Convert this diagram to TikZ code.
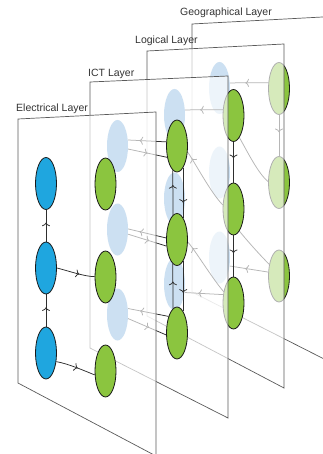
\documentclass[tikz,border=0pt]{standalone}
\usepackage{fontspec}
\setmainfont{Liberation Sans}
\usetikzlibrary{shapes.geometric,arrows.meta,decorations.markings}
\definecolor{eblue}{HTML}{1FA6DF}
\definecolor{backblue}{HTML}{6FA8DC}
\definecolor{egreen}{HTML}{8BC53F}
\definecolor{planeedge}{HTML}{5A5A5A}
\definecolor{linecol}{HTML}{2E2E2E}
\definecolor{txtcol}{HTML}{333333}
\pgfdeclarelayer{geoplane}\pgfdeclarelayer{geoedges}\pgfdeclarelayer{geonodes}
\pgfdeclarelayer{logplane}\pgfdeclarelayer{logedges}\pgfdeclarelayer{lognodes}
\pgfdeclarelayer{ictplane}\pgfdeclarelayer{ictedges}\pgfdeclarelayer{ictnodes}
\pgfdeclarelayer{elecplane}\pgfdeclarelayer{elecedges}
\pgfsetlayers{geoplane,geoedges,geonodes,logplane,logedges,lognodes,ictplane,ictedges,ictnodes,elecplane,elecedges,main}
\begin{document}
\begin{tikzpicture}[x=1pt,y=-1pt,
  bnode/.style={ellipse, draw=black!90, line width=0.8pt, fill=eblue, minimum width=21pt, minimum height=52pt, inner sep=0pt},
  fbnode/.style={ellipse, fill=backblue, minimum width=21pt, minimum height=52pt, inner sep=0pt},
  gnode/.style={ellipse, draw=black!90, line width=0.8pt, fill=egreen, minimum width=21pt, minimum height=52pt, inner sep=0pt},
  plane/.style={draw=planeedge, line width=0.7pt, fill=white, fill opacity=0.65},
  conn/.style={draw=linecol, line width=0.75pt},
  midarr/.style={postaction={decorate}, decoration={markings, mark=at position #1 with {\arrow{To[length=3.6pt,width=8pt]}}}},
  lbl/.style={anchor=base west, font=\fontsize{10.5}{12}\selectfont, text=txtcol, inner sep=0pt}
]
\useasboundingbox (0,0) rectangle (322,454);
\clip (0,0) rectangle (322,454);

% ---------- nodes ----------
\begin{pgfonlayer}{geonodes}
\node[fbnode] (gb1) at (219.5,88) {};
\node[fbnode] (gb2) at (219.5,172.5) {};
\node[fbnode] (gb3) at (219.5,257.5) {};
\node[gnode] (gg1) at (279,88.5) {};
\node[gnode] (gg2) at (279,182.5) {};
\node[gnode] (gg3) at (279,276) {};
\end{pgfonlayer}
\begin{pgfonlayer}{lognodes}
\node[fbnode] (lb1) at (174.5,115) {};
\node[fbnode] (lb2) at (174.5,198.5) {};
\node[fbnode] (lb3) at (174.5,284) {};
\node[gnode] (lg1) at (233.5,115.5) {};
\node[gnode] (lg2) at (233.5,209) {};
\node[gnode] (lg3) at (233.5,303) {};
\end{pgfonlayer}
\begin{pgfonlayer}{ictnodes}
\node[fbnode] (ib1) at (117.5,146) {};
\node[fbnode] (ib2) at (117.5,229.5) {};
\node[fbnode] (ib3) at (117.5,314.5) {};
\node[gnode] (ig1) at (177,146) {};
\node[gnode] (ig2) at (177,239.5) {};
\node[gnode] (ig3) at (177,333) {};
\end{pgfonlayer}
\node[bnode] (eb1) at (46,183.5) {};
\node[bnode] (eb2) at (46,268) {};
\node[bnode] (eb3) at (46,353) {};
\node[gnode] (eg1) at (105.5,184) {};
\node[gnode] (eg2) at (105.5,277) {};
\node[gnode] (eg3) at (105.5,371) {};

% ---------- planes ----------
\begin{pgfonlayer}{geoplane}
\path[plane] (192,24) -- (330,16.6) -- (330,362) -- (192,292) -- cycle;
\end{pgfonlayer}
\begin{pgfonlayer}{logplane}
\path[plane] (147,51) -- (284,44) -- (284,388) -- (147,316) -- cycle;
\end{pgfonlayer}
\begin{pgfonlayer}{ictplane}
\path[plane] (90,82) -- (228,76) -- (228,418) -- (90,348) -- cycle;
\end{pgfonlayer}
\begin{pgfonlayer}{elecplane}
\path[plane] (18,119) -- (156,112) -- (156,456) -- (18,383) -- cycle;
\end{pgfonlayer}

% ---------- edges ----------
\begin{pgfonlayer}{geoedges}
\draw[conn, midarr=0.6] (gg1.152) -- (gb1.26);
\draw[conn, midarr=0.42] (gg1.south) -- (gg2.north);
\draw[conn, midarr=0.6] (gg3.160) -- (gb3.-40);
\draw[conn] (lg1.-75) .. controls +(8,14) and +(-10,-8) .. (gg2.175);
\draw[conn] (lg2.-75) .. controls +(8,10) and +(-8,-8) .. (gg3.130);
\end{pgfonlayer}

\begin{pgfonlayer}{logedges}
\draw[conn, midarr=0.6] (lg1.152) -- (lb1.26);
\draw[conn, midarr=0.4] (lg1.south) -- (lg2.north);
\draw[conn, midarr=0.43] (lg2.south) -- (lg3.north);
\draw[conn, midarr=0.65] (lg3.141) -- (lb3.-40);
\draw[conn, midarr=0.88] (lg2.159) .. controls +(-12,-12) and +(6,8) .. (ig1.-30);
\draw[conn, midarr=0.88] (lg3.131) .. controls +(-12,-14) and +(6,6) .. (ig2.-14);
\end{pgfonlayer}

\begin{pgfonlayer}{ictedges}
\draw[conn, midarr=0.7] (ig1.159) -- (ib1.30);
\draw[conn, midarr=0.5] (ib1.-16) -- (ig1.229);
\draw[conn, midarr=0.7] (ig2.172) -- (ib2.3);
\draw[conn, midarr=0.55] (ib2.-24) -- (ig2.212);
\draw[conn, midarr=0.7] (ig3.117) -- (ib3.30);
\draw[conn, midarr=0.55] (ib3.-21) -- (ig3.190);
\draw[conn, midarr=0.67] (ig2.99.5) -- (ig1.260.5);
\draw[conn, midarr=0.7] (ig1.-74) -- (ig2.74);
\draw[conn, midarr=0.6] (ig3.99.5) -- (ig2.260.5);
\draw[conn, midarr=0.63] (ig2.-74) -- (ig3.74);
\end{pgfonlayer}

\begin{pgfonlayer}{elecedges}
\draw[conn, midarr=0.6] (eb2.north) -- (eb1.south);
\draw[conn, midarr=0.6] (eb3.north) -- (eb2.south);
\draw[conn, midarr=0.6] (eb2.0) .. controls +(12,3) and +(-10,0) .. (eg2.178);
\draw[conn, midarr=0.55] (eb3.-40) .. controls +(12,2) and +(-10,-4) .. (eg3.200);
\end{pgfonlayer}

% ---------- labels ----------
\node[lbl] (tE) at (16,112) {Electrical Layer};
\node[lbl] (tI) at (88,76.5) {ICT Layer};
\node[lbl] (tL) at (135,43.5) {Logical Layer};
\node[lbl] (tG) at (180,16) {Geographical Layer};
\end{tikzpicture}
\end{document}
